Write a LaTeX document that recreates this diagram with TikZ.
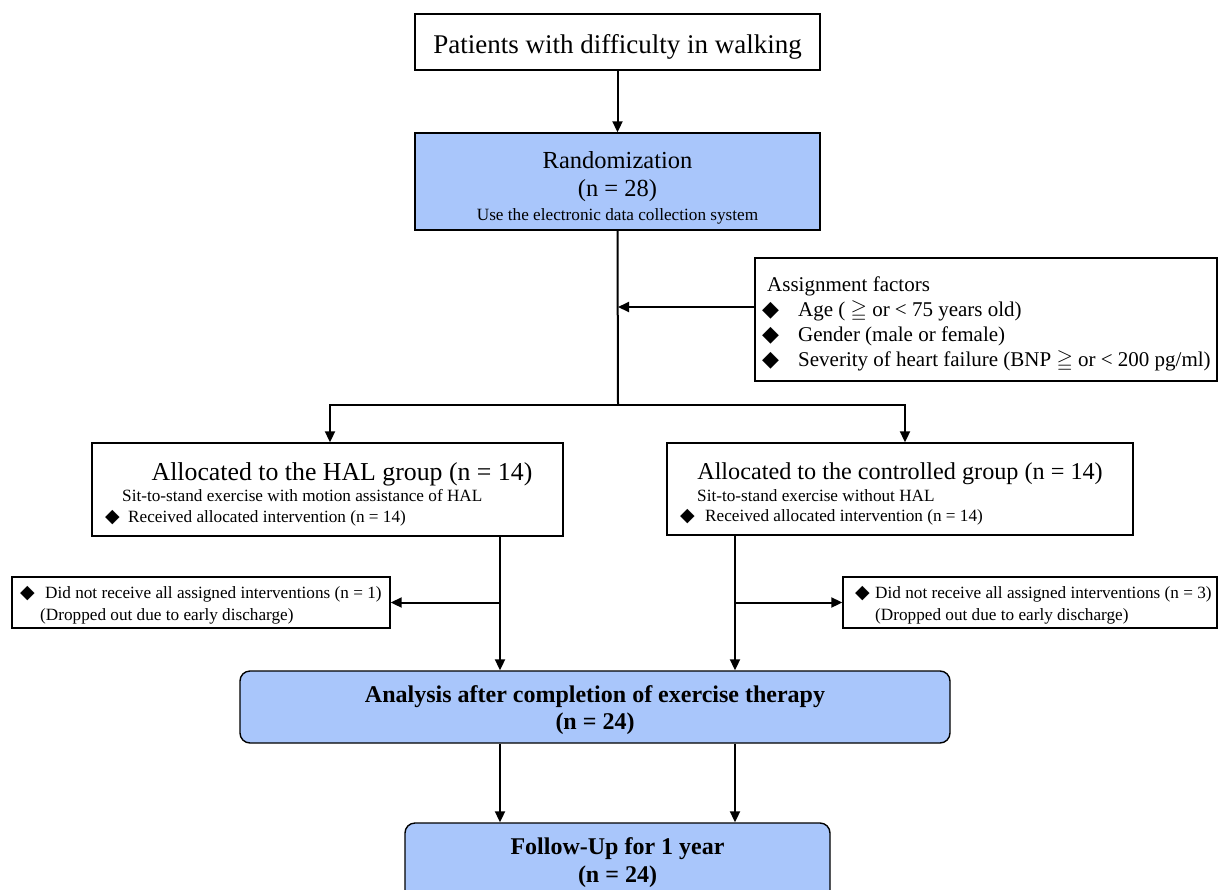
\documentclass[tikz,border=0pt]{standalone}
\usepackage{amssymb}
\usepackage{fontspec}
\setmainfont{Liberation Serif}
\newfontfamily\djv{DejaVu Sans}
\usetikzlibrary{arrows.meta,calc}
\definecolor{boxblue}{RGB}{169,198,251}
\tikzset{
  box/.style={draw=black, line width=1.4pt, inner sep=0pt},
  bluebox/.style={box, fill=boxblue},
  conn/.style={line width=2pt},
  arr/.style={conn, -{Triangle[length=11pt,width=10pt]}},
  big/.style={font=\fontsize{24.5}{28}\selectfont, inner sep=0pt},
  huge/.style={font=\fontsize{27}{30}\selectfont, inner sep=0pt},
  small/.style={font=\fontsize{17.2}{20}\selectfont, inner sep=0pt},
  mid/.style={font=\fontsize{21}{24}\selectfont, inner sep=0pt},
  bold/.style={font=\fontsize{24}{28}\selectfont\bfseries, inner sep=0pt},
}
\newcommand{\dia}[2]{\makebox[#2][l]{\djv\fontsize{#1}{#1}\selectfont ◆}}
\begin{document}
\begin{tikzpicture}[x=1pt,y=-1pt]
\useasboundingbox (0,0) rectangle (1218,889);
% boxes
\node[box, minimum width=405pt, minimum height=56pt] (top) at (617.5,42) {};
\node[bluebox, minimum width=405pt, minimum height=97pt] (rand) at (617.5,181.5) {};
\node[box, fill=white, minimum width=462pt, minimum height=123pt] (assign) at (986,319.5) {};
\node[box, minimum width=471pt, minimum height=93pt] (hal) at (327.5,489.5) {};
\node[box, minimum width=466pt, minimum height=92pt] (ctrl) at (900,489) {};
\node[box, minimum width=378pt, minimum height=51pt] (dropL) at (201,602.5) {};
\node[box, minimum width=374pt, minimum height=51pt] (dropR) at (1030,602.5) {};
\node[bluebox, rounded corners=10pt, minimum width=710pt, minimum height=72pt] (anal) at (595,707) {};
\node[bluebox, rounded corners=10pt, minimum width=425pt, minimum height=80pt] (follow) at (617.5,863) {};
% texts
\node[huge, anchor=base] (t1) at (617.5,53) {Patients with difficulty in walking};
\node[big, anchor=base] (r1) at (617.5,168) {Randomization};
\node[big, anchor=base] (r2) at (617.5,196) {(n = 28)};
\node[small, anchor=base] (r3) at (617.5,220) {Use the electronic data collection system};
\node[mid, anchor=base west] (a1) at (767,291) {Assignment factors};
\node[mid, anchor=base west] (a2) at (762,316) {\dia{22}{36pt}Age ( $\geqq$ or < 75 years old)};
\node[mid, anchor=base west] (a3) at (762,341) {\dia{22}{36pt}Gender (male or female)};
\node[mid, anchor=base west] (a4) at (762,366) {\dia{22}{36pt}Severity of heart failure (BNP $\geqq$ or < 200 pg/ml)};
\node[big, anchor=base, font=\fontsize{25.8}{28}\selectfont] (h1) at (342,480) {Allocated to the HAL group (n = 14)};
\node[small, anchor=base west] (h2) at (122,501) {Sit-to-stand exercise with motion assistance of HAL};
\node[small, anchor=base west] (h3) at (105,522) {\dia{19}{23pt}Received allocated intervention (n = 14)};
\node[big, anchor=base, font=\fontsize{24.2}{28}\selectfont] (c1) at (900,479) {Allocated to the controlled group (n = 14)};
\node[small, anchor=base west] (c2) at (697,501) {Sit-to-stand exercise without HAL};
\node[small, anchor=base west] (c3) at (680,521) {\dia{19}{25pt}Received allocated intervention (n = 14)};
\node[small, anchor=base west] (dl1) at (20,598) {\dia{19}{25pt}Did not receive all assigned interventions (n = 1)};
\node[small, anchor=base west] (dl2) at (40,620) {(Dropped out due to early discharge)};
\node[small, anchor=base west] (dr1) at (855,598) {\dia{19}{20pt}Did not receive all assigned interventions (n = 3)};
\node[small, anchor=base west] (dr2) at (875,620) {(Dropped out due to early discharge)};
\node[bold, anchor=base] (an1) at (595,702) {Analysis after completion of exercise therapy};
\node[bold, anchor=base] (an2) at (595,729) {(n = 24)};
\node[bold, anchor=base] (f1) at (617.5,854) {Follow-Up for 1 year};
\node[bold, anchor=base] (f2) at (617.5,882) {(n = 24)};
% connectors
\coordinate (ja) at (618,307);
\coordinate (j1) at (618,405);
\coordinate (jl) at (330,405);
\coordinate (jr) at (905,405);
\coordinate (xl) at (500,0);
\coordinate (xr) at (735,0);
\draw[arr] (top.south) -- (rand.north);
\draw[conn] (rand.south) -- (j1);
\draw[arr] (assign.west |- ja) -- (ja);
\draw[arr] (j1) -- (jl) -- (jl |- hal.north);
\draw[arr] (j1) -- (jr) -- (jr |- ctrl.north);
\draw[arr] (hal.south -| xl) -- (anal.north -| xl);
\draw[arr] (dropL.east -| xl) -- (dropL.east);
\draw[arr] (ctrl.south -| xr) -- (anal.north -| xr);
\draw[arr] (dropR.west -| xr) -- (dropR.west);
\draw[arr] (anal.south -| xl) -- (follow.north -| xl);
\draw[arr] (anal.south -| xr) -- (follow.north -| xr);
\end{tikzpicture}
\end{document}
